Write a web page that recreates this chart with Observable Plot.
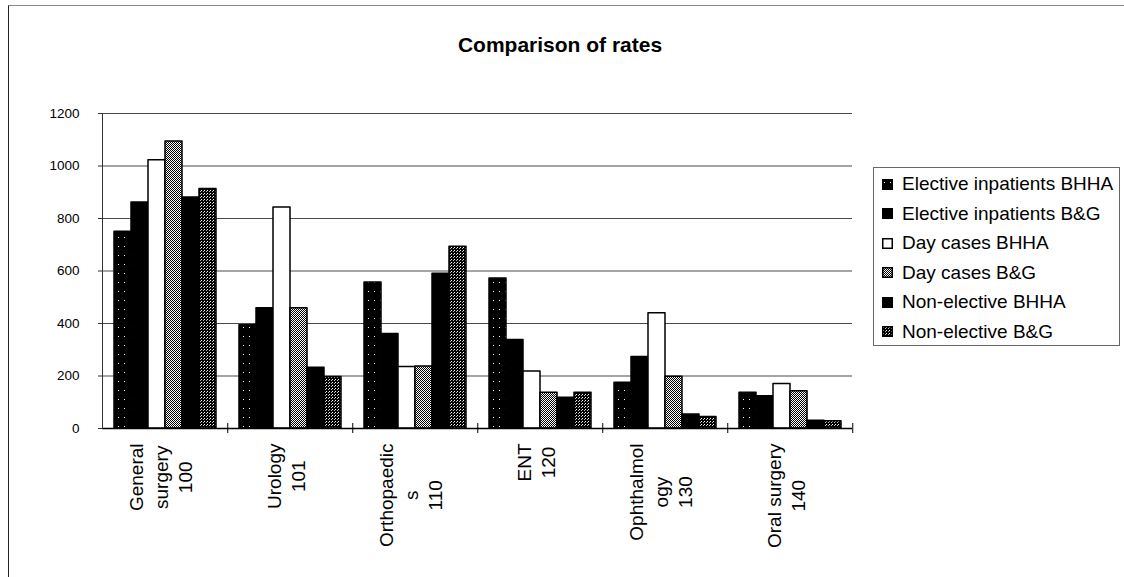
<!DOCTYPE html>
<html>
<head>
<meta charset="utf-8">
<script src="https://cdn.jsdelivr.net/npm/d3@7"></script>
<script src="https://cdn.jsdelivr.net/npm/@observablehq/plot@0.6"></script>
<style>
  html, body { margin: 0; padding: 0; background: #fff; }
  body { font-family: "Liberation Sans", Arial, sans-serif; }
  #wrap { position: relative; width: 1124px; height: 577px; overflow: hidden; background: #fff; }
  #frameBorder { position: absolute; left: 8px; top: 5px; width: 1120px; height: 580px;
    border-left: 1px solid #222; border-top: 1px solid #8a8a8a; }
  #title { position: absolute; left: 0; width: 1120px; top: 34px; text-align: center;
    font-weight: bold; font-size: 21px; line-height: 21px; color: #000; }
  #chart { position: absolute; left: 0; top: 0; }
  #legend { position: absolute; left: 873px; top: 167px; width: 247px; height: 179px;
    border: 1px solid #666; box-sizing: border-box; background: #fff; }
  .item { position: absolute; left: 8px; height: 22px; display: flex; align-items: center;
    font-size: 19px; color: #000; white-space: nowrap; }
  .item svg { margin-right: 9px; }
</style>
</head>
<body>
<svg width="0" height="0" style="position:absolute">
  <defs>
    <pattern id="pEIBHHA" patternUnits="userSpaceOnUse" width="6" height="9">
      <rect width="6" height="9" fill="#000"/>
      <rect x="2" y="3" width="1" height="1" fill="#fff"/>
    </pattern>
    <pattern id="pDCBG" patternUnits="userSpaceOnUse" width="2" height="2">
      <rect width="2" height="2" fill="#fff"/>
      <rect x="0" y="0" width="1" height="1" fill="#000"/>
      <rect x="1" y="1" width="1" height="1" fill="#000"/>
    </pattern>
    <pattern id="pNEBG" patternUnits="userSpaceOnUse" width="3" height="3">
      <rect width="3" height="3" fill="#000"/>
      <rect x="1" y="1" width="1" height="1" fill="#fff"/>
      <rect x="0" y="2" width="1" height="1" fill="#bbb"/>
    </pattern>
  </defs>
</svg>
<div id="wrap">
  <div id="frameBorder"></div>
  <div id="chart"></div>
  <div id="title">Comparison of rates</div>
  <div id="legend"></div>
</div>
<script>
// ---------- data ----------
const categories = ["General surgery 100", "Urology 101", "Orthopaedics 110", "ENT 120", "Ophthalmology 130", "Oral surgery 140"];
const categoryLabels = ["General\nsurgery\n100", "Urology\n101", "Orthopaedic\ns\n110", "ENT\n120", "Ophthalmol\nogy\n130", "Oral surgery\n140"];
const seriesNames = ["Elective inpatients BHHA", "Elective inpatients B&G", "Day cases BHHA", "Day cases B&G", "Non-elective BHHA", "Non-elective B&G"];
const electiveBHHA = [750, 393, 556, 571, 174, 136];
const electiveBG   = [861, 458, 360, 337, 272, 123];
const dayBHHA      = [1022, 842, 234, 217, 439, 170];
const dayBG        = [1093, 458, 236, 136, 197, 142];
const nonElecBHHA  = [880, 231, 590, 117, 53, 30];
const nonElecBG    = [912, 196, 692, 136, 44, 28];
const yTicks = [0, 200, 400, 600, 800, 1000, 1200];

// ---------- styles ----------
const seriesFills = ["url(#pEIBHHA)", "#000", "#fff", "url(#pDCBG)", "#000", "url(#pNEBG)"];
const seriesValues = [electiveBHHA, electiveBG, dayBHHA, dayBG, nonElecBHHA, nonElecBG];

const rows = seriesNames.flatMap((s, si) =>
  categories.map((c, ci) => ({cat: c, series: s, value: seriesValues[si][ci]})));

// layout
const W = 1124, H = 577;
const mL = 100, mR = 271, mT = 113, mB = 149;
const groupStep = (W - mL - mR) / categories.length;
const fontStack = "'Liberation Sans', Arial, sans-serif";
const labelFont = 19;

// measure label block length to centre lines like Excel
const ctx = document.createElement("canvas").getContext("2d");
ctx.font = `${labelFont}px ${fontStack}`;
const labelLen = categoryLabels.map(t => Math.max(...t.split("\n").map(l => ctx.measureText(l).width)));

const barMarks = seriesNames.map((s, si) =>
  Plot.barY(rows.filter(r => r.series === s), {
    fx: "cat", x: "series", y: "value",
    fill: seriesFills[si], stroke: "#000", strokeWidth: 1.5, strokeLinejoin: "round"
  }));

const labelMarks = categories.map((c, ci) =>
  Plot.text([c], {
    fx: d => d, text: () => categoryLabels[ci],
    frameAnchor: "bottom", rotate: -90, textAnchor: "middle", lineAnchor: "middle",
    dx: -5, dy: 15 + labelLen[ci] / 2, fontSize: labelFont, lineHeight: 1.28, fill: "#000"
  }));

const chart = Plot.plot({
  width: W, height: H,
  marginLeft: mL, marginRight: mR, marginTop: mT, marginBottom: mB,
  style: {fontFamily: fontStack, background: "transparent", color: "#000"},
  fx: {domain: categories, padding: 0, label: null},
  x: {domain: seriesNames, paddingInner: 0, paddingOuter: 0.655, axis: null},
  y: {domain: [0, 1200], label: null},
  marks: [
    Plot.gridY(yTicks.filter(v => v > 0), {stroke: "#4a4a4a", strokeOpacity: 1, strokeWidth: 1}),
    ...barMarks,
    Plot.ruleY([0], {stroke: "#000", strokeWidth: 1.5}),
    Plot.frame({anchor: "left", facetAnchor: "left", stroke: "#333", strokeWidth: 1}),
    Plot.axisY(yTicks, {tickSize: 4, tickPadding: 19, fontSize: 13.5, tickFormat: d => `${d}`, label: null, stroke: "#333"}),
    Plot.axisFx({anchor: "bottom", tickSize: 10, dy: -5, dx: groupStep / 2, tickFormat: () => "", label: null, stroke: "#000"}),
    ...labelMarks
  ]
});
document.getElementById("chart").appendChild(chart);

// legend
const legend = document.getElementById("legend");
seriesNames.forEach((s, i) => {
  const div = document.createElement("div");
  div.className = "item";
  div.style.top = (5 + i * 29.5) + "px";
  div.innerHTML = `<svg width="11" height="11"><rect x="0.75" y="0.75" width="9.5" height="9.5" fill="${seriesFills[i]}" stroke="#000" stroke-width="1.5"/></svg><span></span>`;
  div.querySelector("span").textContent = s;
  legend.appendChild(div);
});
</script>
</body>
</html>
